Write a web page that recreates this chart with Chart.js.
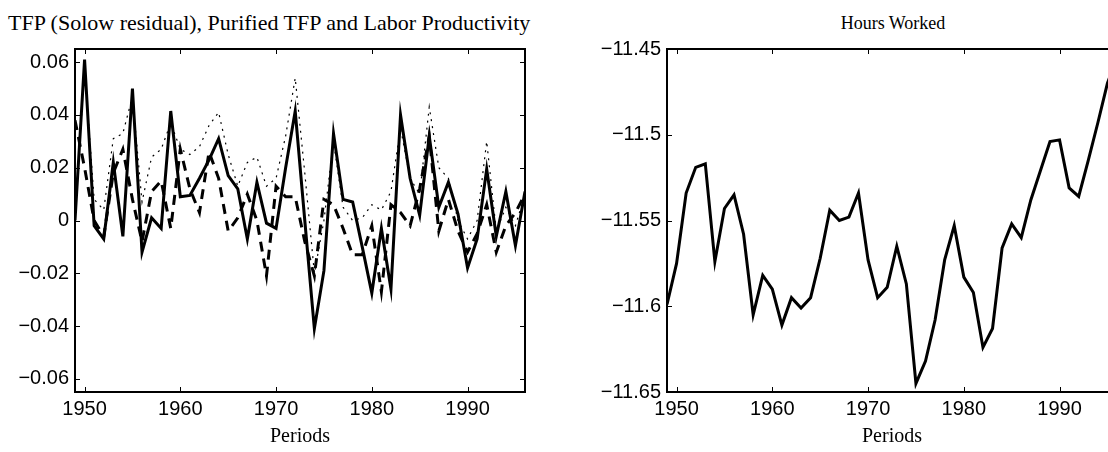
<!DOCTYPE html>
<html>
<head>
<meta charset="utf-8">
<script src="https://cdn.jsdelivr.net/npm/chart.js@4.4.1/dist/chart.umd.min.js"></script>
<style>
html, body { margin: 0; padding: 0; background: #fff; overflow: hidden; width: 1108px; height: 452px; }
.panel { position: absolute; top: 0; width: 540px; height: 452px; }
#leftBox { left: 0; }
#rightBox { left: 592px; }
.ttl { position: absolute; font-family: "Liberation Serif", "Times New Roman", serif; color: #000; white-space: nowrap; }
#ttlTfp { left: 8px; top: 10px; font-size: 22px; line-height: 25px; }
#ttlHours { left: 893px; top: 12px; font-size: 18px; line-height: 22px; transform: translateX(-50%); }
</style>
</head>
<body>
<div class="ttl" id="ttlTfp">TFP (Solow residual), Purified TFP and Labor Productivity</div>
<div class="ttl" id="ttlHours">Hours Worked</div>
<div class="panel" id="leftBox"><canvas id="plotTfp" width="540" height="452"></canvas></div>
<div class="panel" id="rightBox"><canvas id="plotHours" width="540" height="452"></canvas></div>
<script>
const years = [1949,1950,1951,1952,1953,1954,1955,1956,1957,1958,1959,1960,1961,1962,1963,1964,
  1965,1966,1967,1968,1969,1970,1971,1972,1973,1974,1975,1976,1977,1978,1979,1980,
  1981,1982,1983,1984,1985,1986,1987,1988,1989,1990,1991,1992,1993,1994,1995,1996];

// TFP (Solow residual) - solid
const tfpSolow = [0.000,0.061,-0.002,-0.007,0.022,-0.006,0.050,-0.012,0.001,-0.003,0.0415,0.009,
  0.0095,0.016,0.023,0.031,0.017,0.012,-0.007,0.0145,-0.001,-0.003,0.020,0.0415,
  0.000,-0.041,-0.019,0.033,0.008,0.007,-0.010,-0.0275,-0.003,-0.026,0.040,0.016,
  0.002,0.032,0.005,0.0145,0.0025,-0.018,-0.007,0.0195,-0.006,0.011,-0.0095,0.011];

// Purified TFP - dashed
const tfpPurified = [0.038,0.020,0.000,-0.006,0.018,0.027,0.008,-0.008,0.011,0.015,-0.003,0.027,
  0.012,0.003,0.026,0.016,-0.004,0.001,0.010,0.000,-0.021,0.013,0.009,0.009,
  -0.008,-0.021,0.008,0.006,-0.003,-0.013,-0.013,-0.002,-0.027,0.006,0.003,-0.002,
  0.012,0.032,-0.004,0.008,-0.004,-0.012,-0.005,0.006,-0.012,-0.002,0.003,0.010];

// Labor productivity - dotted
const laborProd = [0.000,0.058,0.008,0.004,0.031,0.033,0.047,0.007,0.024,0.027,0.037,0.027,
  0.025,0.028,0.036,0.041,0.025,0.013,0.022,0.024,0.013,0.016,0.032,0.054,
  0.018,-0.020,0.000,0.030,0.005,0.000,0.001,0.006,0.004,0.011,0.035,0.016,
  0.010,0.043,0.020,0.016,0.000,-0.007,0.000,0.030,-0.004,0.005,-0.002,0.010];

const hoursWorked = [-11.599,-11.575,-11.534,-11.519,-11.517,-11.574,-11.543,-11.535,-11.558,-11.605,-11.582,-11.590,
  -11.611,-11.595,-11.601,-11.595,-11.572,-11.544,-11.550,-11.548,-11.534,-11.573,-11.595,-11.589,
  -11.565,-11.587,-11.645,-11.632,-11.608,-11.573,-11.553,-11.583,-11.592,-11.624,-11.613,-11.566,
  -11.552,-11.560,-11.538,-11.521,-11.504,-11.503,-11.531,-11.536,-11.515,-11.493,-11.470,-11.455];

const xTicks = [1950, 1960, 1970, 1980, 1990];
const yTicksTfp = [-0.06, -0.04, -0.02, 0, 0.02, 0.04, 0.06];
const yTicksHours = [-11.65, -11.6, -11.55, -11.5, -11.45];

const tickFont = { family: '"Liberation Sans", Arial, Helvetica, sans-serif', size: 20 };
const labelFont = { family: '"Liberation Serif", "Times New Roman", serif', size: 20 };

function fmt(v) {
  if (v === 0) return '0';
  let s = String(+Math.abs(v).toFixed(2));
  if (Math.abs(v) < 1) s = Math.abs(v).toFixed(2);
  return (v < 0 ? '\u2212' : '') + s;
}

function pairs(vals) {
  return years.map((yr, i) => ({ x: yr, y: vals[i] }));
}

// box around plot area with inward ticks (matlab style)
const boxTicks = {
  id: 'boxTicks',
  afterDraw(chart) {
    const { ctx, chartArea: a, scales: { x, y } } = chart;
    ctx.save();
    ctx.strokeStyle = '#000';
    ctx.lineWidth = 2;
    ctx.strokeRect(a.left, a.top, a.right - a.left, a.bottom - a.top);
    ctx.lineWidth = 1;
    ctx.beginPath();
    x.ticks.forEach(t => {
      const px = Math.round(x.getPixelForValue(t.value)) + 0.5;
      ctx.moveTo(px, a.bottom); ctx.lineTo(px, a.bottom - 5);
      ctx.moveTo(px, a.top); ctx.lineTo(px, a.top + 5);
    });
    y.ticks.forEach(t => {
      const py = Math.round(y.getPixelForValue(t.value)) + 0.5;
      ctx.moveTo(a.left, py); ctx.lineTo(a.left + 5, py);
      ctx.moveTo(a.right, py); ctx.lineTo(a.right - 5, py);
    });
    ctx.stroke();
    ctx.restore();
  }
};

function makeOptions(yMin, yMax, yTicks) {
  return {
    responsive: false,
    animation: false,
    layout: { padding: { top: 49, right: 15, bottom: 0, left: 0 } },
    plugins: { legend: { display: false }, tooltip: { enabled: false }, title: { display: false } },
    elements: { point: { radius: 0 }, line: { tension: 0 } },
    scales: {
      x: {
        type: 'linear',
        min: 1949,
        max: 1996,
        afterBuildTicks: axis => { axis.ticks = xTicks.map(v => ({ value: v })); },
        afterFit: axis => { axis.height = 60; },
        grid: { display: false, drawTicks: false },
        border: { display: false },
        ticks: { color: '#000', font: tickFont, padding: 5, maxRotation: 0, callback: v => String(v) },
        title: { display: true, text: 'Periods', color: '#000', font: labelFont, padding: { top: 0, bottom: 3 } }
      },
      y: {
        type: 'linear',
        min: yMin,
        max: yMax,
        afterBuildTicks: axis => { axis.ticks = yTicks.map(v => ({ value: v })); },
        afterFit: axis => { axis.width = 75; },
        grid: { display: false, drawTicks: false },
        border: { display: false },
        ticks: { color: '#000', font: tickFont, padding: 6, callback: v => fmt(v) }
      }
    }
  };
}

new Chart(document.getElementById('plotTfp'), {
  type: 'line',
  data: {
    datasets: [
      { label: 'Labor Productivity', data: pairs(laborProd), borderColor: '#000', borderWidth: 1.2, borderDash: [2, 5], fill: false },
      { label: 'Purified TFP', data: pairs(tfpPurified), borderColor: '#000', borderWidth: 3, borderDash: [10, 7], fill: false },
      { label: 'TFP (Solow residual)', data: pairs(tfpSolow), borderColor: '#000', borderWidth: 3, fill: false }
    ]
  },
  options: makeOptions(-0.065, 0.065, yTicksTfp),
  plugins: [boxTicks]
});

new Chart(document.getElementById('plotHours'), {
  type: 'line',
  data: {
    datasets: [
      { label: 'Hours Worked', data: pairs(hoursWorked), borderColor: '#000', borderWidth: 3, fill: false }
    ]
  },
  options: makeOptions(-11.65, -11.45, yTicksHours),
  plugins: [boxTicks]
});
</script>
</body>
</html>
